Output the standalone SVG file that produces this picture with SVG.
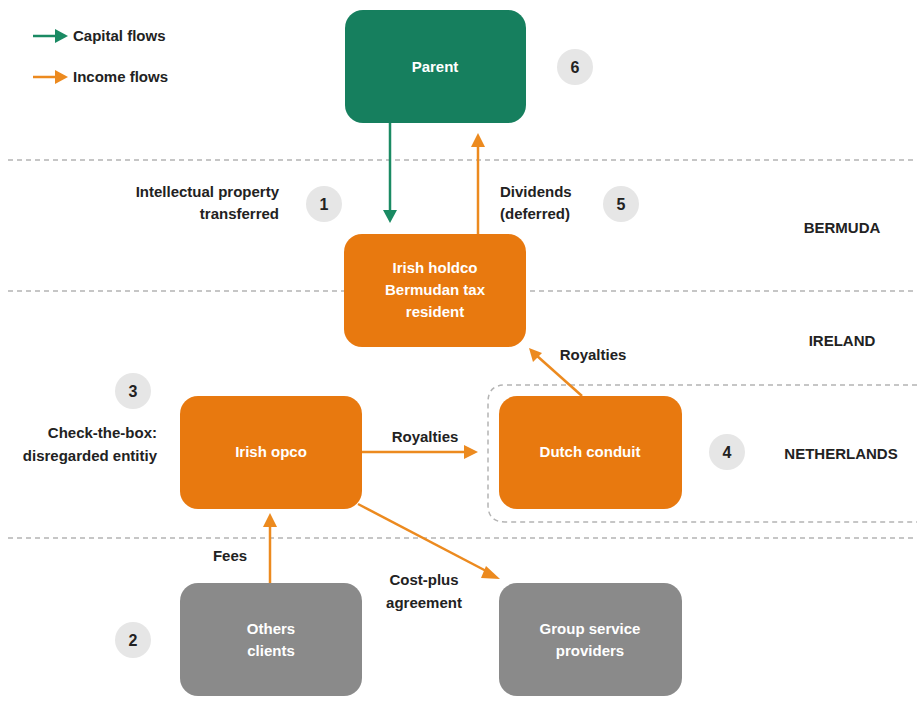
<svg xmlns="http://www.w3.org/2000/svg" width="917" height="707" viewBox="0 0 917 707">
<style>
text{font-family:"Liberation Sans Narrow","Liberation Sans",Arial,sans-serif;font-weight:bold;font-size:15px;fill:#222}
.w{fill:#fff;text-anchor:middle}
.o{fill:#e8790f}
.g{fill:#167f5e}
.s{fill:#8a8a8a}
.c{fill:#e6e6e6}
.n{text-anchor:middle;font-size:16px}
.sep{stroke:#b4b4b4;stroke-width:1.5;stroke-dasharray:5 4;fill:none}
.ao{stroke:#ec8a1f;stroke-width:2.5;fill:none}
.ag{stroke:#1a8a63;stroke-width:2.5;fill:none}
</style>
<rect width="917" height="707" fill="#fff"/>
<g id="separators">
<line class="sep" x1="8" y1="160" x2="917" y2="160"/>
<line class="sep" x1="8" y1="291" x2="917" y2="291"/>
<line class="sep" x1="8" y1="538" x2="917" y2="538"/>
<path class="sep" d="M917,385 H505 Q488,385 488,402 V505 Q488,522 505,522 H917"/>
</g>
<g id="legend">
<line x1="33" y1="36" x2="58" y2="36" class="ag"/><path d="M55,29 L68,36 L55,43 z" fill="#1a8a63"/>
<text x="73" y="41" font-size="13.5">Capital flows</text>
<line x1="33" y1="77" x2="58" y2="77" class="ao"/><path d="M55,70 L68,77 L55,84 z" fill="#ec8a1f"/>
<text x="73" y="82" font-size="13.5">Income flows</text>
</g>
<g id="connectors">
<line class="ag" x1="390" y1="122" x2="390" y2="212"/><path d="M383,210 L390,223 L397,210 z" fill="#1a8a63"/>
<line class="ao" x1="478" y1="234" x2="478" y2="145"/><path d="M471,147 L478,133 L485,147 z" fill="#ec8a1f"/>
<line class="ao" x1="362" y1="452" x2="466" y2="452"/><path d="M464,445 L478,452 L464,459 z" fill="#ec8a1f"/>
<line class="ao" x1="582" y1="396" x2="536" y2="355"/><path d="M529,348 L533,362 L542,353 z" fill="#ec8a1f"/>
<line class="ao" x1="270" y1="583" x2="270" y2="525"/><path d="M263,527 L270,513 L277,527 z" fill="#ec8a1f"/>
<line class="ao" x1="358" y1="504" x2="490" y2="573"/><path d="M486,566 L500,579 L481,578 z" fill="#ec8a1f"/>
</g>
<g id="parent"><rect x="345" y="10" width="181" height="113" rx="18" class="g"/><text class="w" x="435" y="72">Parent</text></g>
<g id="holdco"><rect x="344" y="234" width="182" height="113" rx="18" class="o"/><text class="w" x="435" y="273">Irish holdco</text><text class="w" x="435" y="295">Bermudan tax</text><text class="w" x="435" y="317">resident</text></g>
<g id="opco"><rect x="180" y="396" width="182" height="113" rx="18" class="o"/><text class="w" x="271" y="457">Irish opco</text></g>
<g id="dutch"><rect x="499" y="396" width="183" height="113" rx="18" class="o"/><text class="w" x="590" y="457">Dutch conduit</text></g>
<g id="clients"><rect x="180" y="583" width="182" height="113" rx="18" class="s"/><text class="w" x="271" y="634">Others</text><text class="w" x="271" y="656">clients</text></g>
<g id="gsp"><rect x="499" y="583" width="183" height="113" rx="18" class="s"/><text class="w" x="590" y="634">Group service</text><text class="w" x="590" y="656">providers</text></g>
<g id="badges">
<circle cx="575" cy="67" r="18" class="c"/><text class="n" x="575" y="73">6</text>
<circle cx="324" cy="204" r="18" class="c"/><text class="n" x="324" y="210">1</text>
<circle cx="621" cy="204" r="18" class="c"/><text class="n" x="621" y="210">5</text>
<circle cx="133" cy="391" r="18" class="c"/><text class="n" x="133" y="397">3</text>
<circle cx="727" cy="452" r="18" class="c"/><text class="n" x="727" y="458">4</text>
<circle cx="133" cy="640" r="18" class="c"/><text class="n" x="133" y="646">2</text>
</g>
<g id="labels">
<text x="279" y="197" text-anchor="end">Intellectual property</text>
<text x="279" y="219" text-anchor="end">transferred</text>
<text x="500" y="197">Dividends</text>
<text x="500" y="219">(deferred)</text>
<text x="842" y="233" text-anchor="middle">BERMUDA</text>
<text x="842" y="346" text-anchor="middle">IRELAND</text>
<text x="841" y="459" text-anchor="middle">NETHERLANDS</text>
<text x="157" y="438" text-anchor="end">Check-the-box:</text>
<text x="157" y="461" text-anchor="end">disregarded entitiy</text>
<text x="425" y="442" text-anchor="middle">Royalties</text>
<text x="593" y="360" text-anchor="middle">Royalties</text>
<text x="230" y="561" text-anchor="middle">Fees</text>
<text x="424" y="585" text-anchor="middle">Cost-plus</text>
<text x="424" y="608" text-anchor="middle">agreement</text>
</g>
</svg>
